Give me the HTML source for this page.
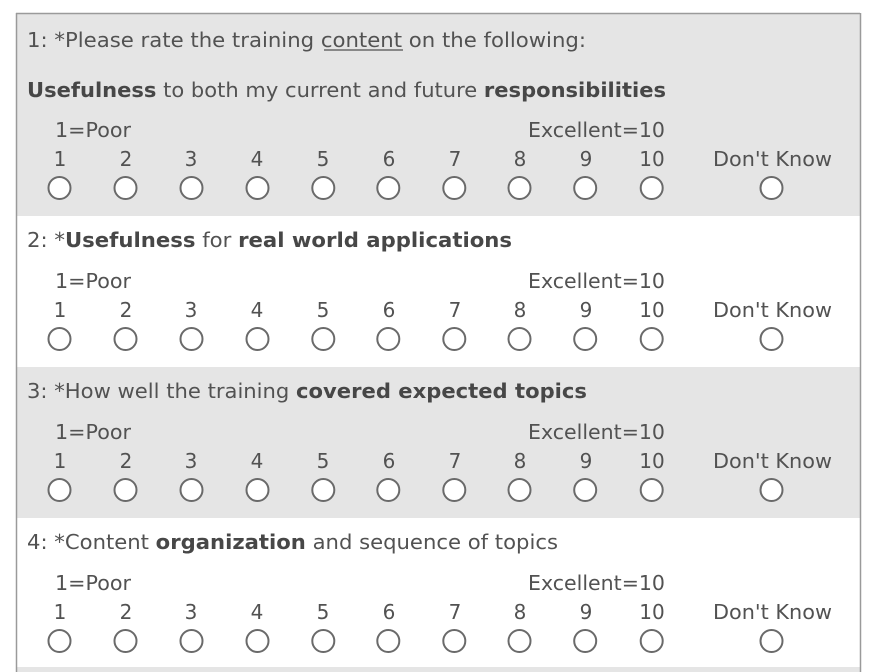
<!DOCTYPE html>
<html>
<head>
<meta charset="utf-8">
<style>
html,body{margin:0;padding:0;background:#fff;}
svg{display:block;}
text{font-family:"DejaVu Sans","Liberation Sans",sans-serif;font-size:20px;fill:#525252;}
.b{font-weight:bold;fill:#474747;}
</style>
</head>
<body>
<svg width="869" height="672" viewBox="0 0 869 672" xmlns="http://www.w3.org/2000/svg">
  <rect x="0" y="0" width="869" height="672" fill="#ffffff"/>
  <!-- section backgrounds -->
  <rect x="16" y="14" width="844" height="202" fill="#e5e5e5"/>
  <rect x="16" y="216" width="844" height="151" fill="#ffffff"/>
  <rect x="16" y="367" width="844" height="151" fill="#e5e5e5"/>
  <rect x="16" y="518" width="844" height="149" fill="#ffffff"/>
  <rect x="16" y="667" width="844" height="5" fill="#e5e5e5"/>
  <!-- border -->
  <line x1="16.5" y1="13" x2="16.5" y2="672" stroke="#9a9a9a" stroke-width="1.5"/>
  <line x1="16" y1="13.5" x2="860" y2="13.5" stroke="#9a9a9a" stroke-width="1.5"/>
  <line x1="860.5" y1="13" x2="860.5" y2="672" stroke="#9a9a9a" stroke-width="1.5"/>

  <!-- Section 1 -->
  <text x="27" y="47" textLength="559" lengthAdjust="spacingAndGlyphs">1: *Please rate the training content on the following:</text>
  <line x1="324" y1="50" x2="403" y2="50" stroke="#525252" stroke-width="1.3"/>
  <text x="27" y="97" textLength="639" lengthAdjust="spacingAndGlyphs"><tspan class="b">Usefulness</tspan> to both my current and future <tspan class="b">responsibilities</tspan></text>

  <!-- Section 2 -->
  <text x="27" y="247" textLength="485" lengthAdjust="spacingAndGlyphs">2: *<tspan class="b">Usefulness</tspan> for <tspan class="b">real world applications</tspan></text>

  <!-- Section 3 -->
  <text x="27" y="398" textLength="560" lengthAdjust="spacingAndGlyphs">3: *How well the training <tspan class="b">covered expected topics</tspan></text>

  <!-- Section 4 -->
  <text x="27" y="549" textLength="531" lengthAdjust="spacingAndGlyphs">4: *Content <tspan class="b">organization</tspan> and sequence of topics</text>

  <!-- Scales -->
  <g id="scale1">
    <text x="55" y="137" textLength="76" lengthAdjust="spacingAndGlyphs">1=Poor</text>
    <text x="528" y="137" textLength="137" lengthAdjust="spacingAndGlyphs">Excellent=10</text>
    <g text-anchor="middle">
      <text x="60" y="166">1</text><text x="126" y="166">2</text><text x="191" y="166">3</text><text x="257" y="166">4</text><text x="323" y="166">5</text><text x="389" y="166">6</text><text x="455" y="166">7</text><text x="520" y="166">8</text><text x="586" y="166">9</text><text x="652" y="166">10</text>
    </g>
    <text x="713" y="166" textLength="119" lengthAdjust="spacingAndGlyphs">Don't Know</text>
    <g fill="#ffffff" stroke="#6a6a6a" stroke-width="2">
      <circle cx="59.5" cy="188" r="11"/><circle cx="125.5" cy="188" r="11"/><circle cx="191.5" cy="188" r="11"/><circle cx="257.5" cy="188" r="11"/><circle cx="323.3" cy="188" r="11"/><circle cx="388.3" cy="188" r="11"/><circle cx="454.3" cy="188" r="11"/><circle cx="519.5" cy="188" r="11"/><circle cx="585.2" cy="188" r="11"/><circle cx="651.7" cy="188" r="11"/><circle cx="771.5" cy="188" r="11"/>
    </g>
  </g>
  <use href="#scale1" transform="translate(0,151)"/>
  <use href="#scale1" transform="translate(0,302)"/>
  <use href="#scale1" transform="translate(0,453)"/>
</svg>
</body>
</html>
